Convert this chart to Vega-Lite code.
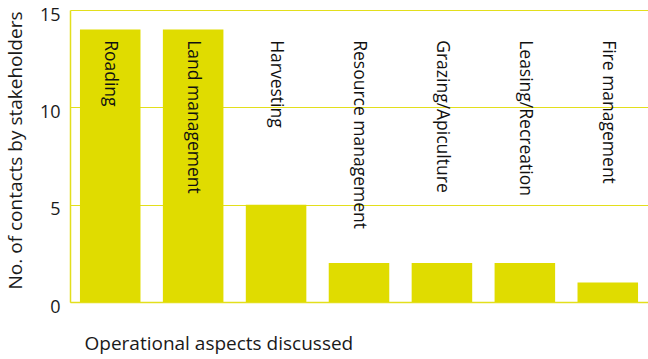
{
  "$schema": "https://vega.github.io/schema/vega-lite/v6.json",
  "width": 578,
  "height": 292,
  "autosize": "none",
  "padding": {"left": 70, "top": 10, "right": 0, "bottom": 57},
  "background": "white",
  "config": {"view": {"stroke": null}, "font": "Open Sans"},
  "data": {
    "values": [
      {"aspect": "Roading", "contacts": 14},
      {"aspect": "Land management", "contacts": 14},
      {"aspect": "Harvesting", "contacts": 5},
      {"aspect": "Resource management", "contacts": 2},
      {"aspect": "Grazing/Apiculture", "contacts": 2},
      {"aspect": "Leasing/Recreation", "contacts": 2},
      {"aspect": "Fire management", "contacts": 1}
    ]
  },
  "encoding": {
    "x": {
      "field": "aspect",
      "type": "nominal",
      "sort": null,
      "scale": {"paddingInner": 0.27, "paddingOuter": 0.12},
      "axis": {
        "labels": false,
        "ticks": false,
        "domain": true,
        "domainColor": "#e3df1c",
        "domainWidth": 1.5,
        "title": "Operational aspects discussed",
        "titleFont": "Open Sans",
        "titleFontSize": 19,
        "titleFontWeight": "normal",
        "titleColor": "#1a1a1a",
        "titleX": 14,
        "titleY": 41,
        "titleAlign": "left",
        "titleBaseline": "middle",
        "titleAnchor": null
      }
    }
  },
  "layer": [
    {
      "mark": {"type": "bar", "color": "#e0dc00"},
      "encoding": {
        "y": {
          "field": "contacts",
          "type": "quantitative",
          "scale": {"domain": [0, 15], "nice": false},
          "axis": {
            "values": [0, 5, 10, 15],
            "grid": true,
            "gridColor": "#e3df1c",
            "gridWidth": 1.2,
            "domain": true,
            "domainColor": "#e3df1c",
            "domainWidth": 1.5,
            "ticks": false,
            "labelPadding": 10,
            "labelOffset": 5,
            "labelBaseline": "middle",
            "labelFont": "Open Sans",
            "labelFontSize": 18,
            "labelColor": "#1a1a1a",
            "title": "No. of contacts by stakeholders",
            "titleFont": "Open Sans",
            "titleFontSize": 19,
            "titleFontWeight": "normal",
            "titleColor": "#1a1a1a",
            "titleX": -55,
            "titleY": 140,
            "titleAngle": -90,
            "titleAlign": "center",
            "titleBaseline": "middle"
          }
        }
      }
    },
    {
      "mark": {"type": "text", "angle": 90, "align": "left", "baseline": "middle", "font": "Open Sans", "fontSize": 17.5, "color": "#111111"},
      "encoding": {
        "y": {"datum": 13.45, "type": "quantitative"},
        "text": {"field": "aspect"}
      }
    }
  ]
}
